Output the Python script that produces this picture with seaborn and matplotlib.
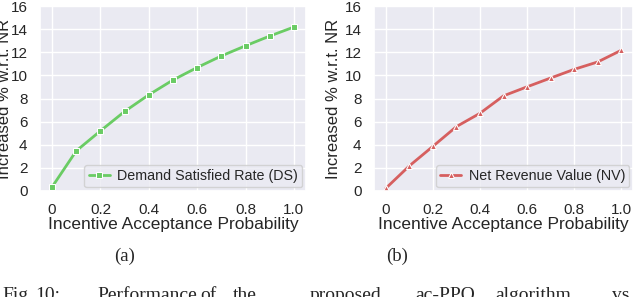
import seaborn as sns
import matplotlib.pyplot as plt
import pandas as pd

# data
prob = [0.0, 0.1, 0.2, 0.3, 0.4, 0.5, 0.6, 0.7, 0.8, 0.9, 1.0]
ds_increase = [0.35, 3.47, 5.2, 6.88, 8.32, 9.6, 10.68, 11.68, 12.56, 13.4, 14.18]
nv_increase = [0.23, 2.17, 3.86, 5.57, 6.72, 8.23, 9.01, 9.77, 10.52, 11.16, 12.17]
xtick_vals = [0, 0.2, 0.4, 0.6, 0.8, 1.0]
xtick_labels = ["0", "0.2", "0.4", "0.6", "0.8", "1.0"]
ytick_vals = [0, 2, 4, 6, 8, 10, 12, 14, 16]

sns.set_theme(style="darkgrid", palette="muted")
plt.rcParams["font.family"] = ["Liberation Sans", "DejaVu Sans"]

muted = sns.color_palette("muted")
green = muted[2]
red = muted[3]

df = pd.DataFrame({"p": prob, "ds": ds_increase, "nv": nv_increase})

fig = plt.figure(figsize=(6.4, 2.97), dpi=100)
ax1 = fig.add_axes([40 / 640, 106 / 297, 266 / 640, 185 / 297])
ax2 = fig.add_axes([374 / 640, 106 / 297, 259 / 640, 185 / 297])

sns.lineplot(data=df, x="p", y="ds", ax=ax1, color=green, marker="s",
             markersize=5, linewidth=2, label="Demand Satisfied Rate (DS)")
sns.lineplot(data=df, x="p", y="nv", ax=ax2, color=red, marker="^",
             markersize=5, linewidth=2, label="Net Revenue Value (NV)")

for ax, ylab_x in ((ax1, -0.106), (ax2, -0.128)):
    ax.set_xlim(-0.05, 1.05)
    ax.set_ylim(0, 16)
    ax.set_xticks(xtick_vals)
    ax.set_xticklabels(xtick_labels)
    ax.set_yticks(ytick_vals)
    ax.tick_params(labelsize=11, pad=3)
    ax.set_xlabel("Incentive Acceptance Probability", fontsize=12.5,
                  labelpad=0)
    ax.set_ylabel("Increased % w.r.t. NR", fontsize=12)
    ax.yaxis.set_label_coords(ylab_x, 0.5)
    ax.legend(loc="lower right", fontsize=10.3, frameon=True,
              borderaxespad=0.25, handlelength=1.5, borderpad=0.3,
              handletextpad=0.5)

# caption text below the panels
serif = ["Liberation Serif", "DejaVu Serif"]
fig.text(125 / 640, 1 - 256 / 297, "(a)", ha="center", va="center",
         fontsize=13.5, family=serif)
fig.text(397 / 640, 1 - 256 / 297, "(b)", ha="center", va="center",
         fontsize=13.5, family=serif)
words = ["Fig.", "10:", "Performance", "of", "the", "proposed", "ac-PPO",
         "algorithm", "vs"]
word_x = [2, 35, 97, 200, 233, 310, 415, 495, 612]
for w, x in zip(words, word_x):
    fig.text(x / 640, 1 - 300 / 297, w, ha="left", va="baseline",
             fontsize=14, family=serif)

fig.savefig("out.png", dpi=100)
